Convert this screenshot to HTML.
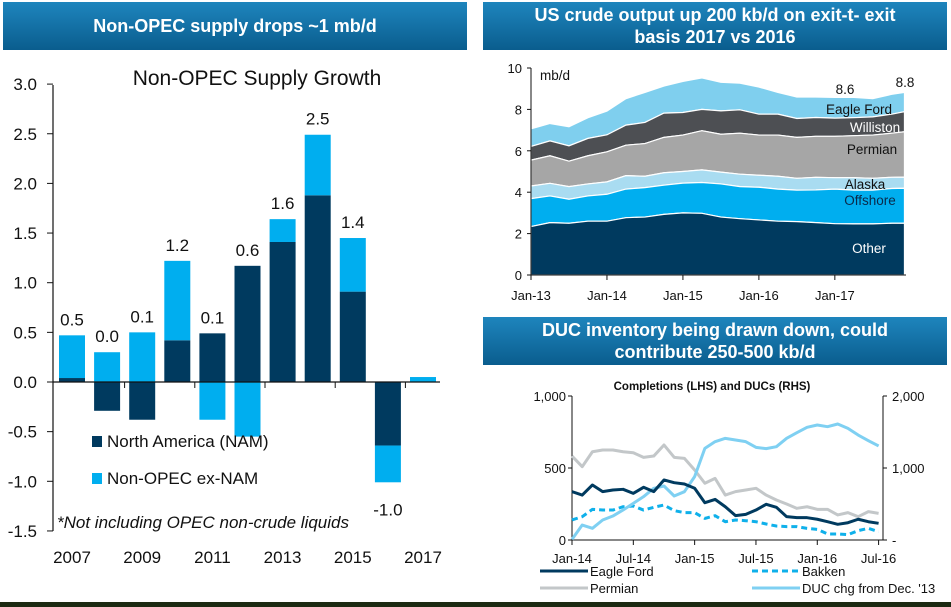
<!DOCTYPE html>
<html><head><meta charset="utf-8">
<style>
html,body{margin:0;padding:0;background:#fff;width:951px;height:607px;overflow:hidden;font-family:"Liberation Sans",sans-serif}
.tb{position:absolute;color:#fff;font-weight:bold;text-align:center;background:linear-gradient(#1e85bd,#0a5d8e);display:flex;align-items:center;justify-content:center;line-height:22px}
svg{position:absolute;left:0;top:0}
</style></head><body>
<div class="tb" style="left:3px;top:2px;width:464px;height:48px;font-size:18px">Non-OPEC supply drops ~1 mb/d</div>
<div class="tb" style="left:483px;top:2px;width:464px;height:48px;font-size:18px">US crude output up 200 kb/d on exit-t- exit<br>basis 2017 vs 2016</div>
<div class="tb" style="left:483px;top:317px;width:464px;height:48px;font-size:18px">DUC inventory being drawn down, could<br>contribute 250-500 kb/d</div>
<div style="position:absolute;left:0;top:602px;width:951px;height:5px;background:#1c2a12"></div>
<svg id="s" width="951" height="602" font-family="Liberation Sans, sans-serif"></svg>
<script>
// ---- Chart 1: Non-OPEC supply growth ----
const years=['2007','2008','2009','2010','2011','2012','2013','2014','2015','2016','2017'];
const namVals=[0.04,-0.29,-0.38,0.42,0.49,1.17,1.41,1.88,0.91,-0.64,0];
const exNamVals=[0.43,0.30,0.50,0.80,-0.38,-0.55,0.23,0.61,0.54,-0.37,0.05];
const totalLabels=['0.5','0.0','0.1','1.2','0.1','0.6','1.6','2.5','1.4','-1.0',''];
const c1Ticks=[3.0,2.5,2.0,1.5,1.0,0.5,0.0,-0.5,-1.0,-1.5];

// ---- Chart 2: US crude output stacked area (quarterly, Dec-17 final) ----
const c2Months=[0,3,6,9,12,15,18,21,24,27,30,33,36,39,42,45,48,51,54,57,59];
const otherTop=[2.34,2.53,2.50,2.60,2.60,2.77,2.80,2.93,3.00,2.98,2.80,2.72,2.66,2.60,2.58,2.53,2.48,2.47,2.47,2.50,2.50];
const offshoreTop=[3.69,3.82,3.66,3.82,3.90,4.15,4.22,4.34,4.44,4.47,4.40,4.27,4.24,4.15,4.10,4.11,4.15,4.10,4.10,4.18,4.19];
const alaskaTop=[4.30,4.43,4.27,4.40,4.50,4.80,4.77,4.94,5.00,5.08,4.97,4.87,4.82,4.77,4.67,4.72,4.70,4.70,4.67,4.72,4.73];
const permianTop=[5.55,5.76,5.50,5.76,5.95,6.27,6.35,6.65,6.76,6.97,6.80,6.85,6.76,6.76,6.65,6.70,6.70,6.73,6.76,6.85,6.92];
const willistonTop=[6.21,6.48,6.24,6.60,6.77,7.24,7.37,7.82,7.85,8.00,7.93,7.98,7.77,7.77,7.56,7.61,7.58,7.60,7.64,7.77,7.89];
const eagleFordTop=[7.06,7.32,7.16,7.60,7.92,8.52,8.82,9.13,9.35,9.52,9.31,9.27,9.08,8.82,8.60,8.60,8.58,8.58,8.52,8.73,8.82];
const c2Ticks=[0,2,4,6,8,10];
const c2XLabels=['Jan-13','Jan-14','Jan-15','Jan-16','Jan-17'];

// ---- Chart 3: Completions and DUCs (monthly Jan-14..Jul-16) ----
const eagleFord=[336,312,382,336,347,352,324,366,336,417,398,389,359,259,282,231,169,178,208,248,227,162,155,155,144,127,109,120,144,127,116];
const permian=[583,509,613,625,625,613,606,574,583,660,574,567,486,394,428,312,336,347,359,312,278,250,220,231,213,213,174,190,162,197,185];
const bakken=[139,162,213,208,208,231,236,208,227,243,204,190,190,150,169,127,139,134,127,111,97,93,93,81,74,42,42,37,65,81,58];
const ducChg=[9,208,162,278,333,417,509,602,718,750,611,671,880,1273,1366,1412,1389,1366,1287,1269,1296,1412,1491,1565,1597,1574,1611,1551,1458,1380,1306];
const c3XLabels=['Jan-14','Jul-14','Jan-15','Jul-15','Jan-16','Jul-16'];
const c3LTicks=['0','500','1,000'];
const c3RTicks=['-','1,000','2,000'];

const svg=document.getElementById('s');
const NS='http://www.w3.org/2000/svg';
function mk(tag,attrs,parent){const e=document.createElementNS(NS,tag);for(const k in attrs)e.setAttribute(k,attrs[k]);(parent||svg).appendChild(e);return e;}
function txt(s,attrs,parent){const e=mk('text',attrs,parent);e.textContent=s;return e;}

// ===== Chart 1 =====
const y1=v=>382-v*99.3;
const x1=i=>72+i*35.1;
const g1=mk('g',{});


let t=txt('Non-OPEC Supply Growth',{x:257,y:85,'font-size':21,'text-anchor':'middle',fill:'#111'},g1);


c1Ticks.forEach(v=>{
  let l=txt(v.toFixed(1),{x:37,y:y1(v)+6,'font-size':17,'text-anchor':'end',fill:'#111'},g1);
  
  
  mk('line',{x1:47,x2:53,y1:y1(v),y2:y1(v),stroke:'#111','stroke-width':1},g1);
});
years.forEach((yr,i)=>{
  const cx=x1(i);
  let pos=0,neg=0;
  [[namVals[i],'#003a5f','nam'],[exNamVals[i],'#00aeef','ex-nam']].forEach(([v,c,n])=>{
    let top,bot;
    if(v>=0){bot=pos;top=pos+v;pos=top;}else{top=neg;bot=neg+v;neg=bot;}
    const r=mk('rect',{x:cx-13,y:y1(top),width:26,height:Math.max(0,y1(bot)-y1(top)),fill:c},g1);
    
    
  });
  if(totalLabels[i]){
    const ly=namVals[i]+exNamVals[i]<-0.5? y1(neg)+33 : y1(pos)-10;
    const l=txt(totalLabels[i],{x:cx,y:ly,'font-size':17,'text-anchor':'middle',fill:'#111'},g1);
    
    
  }
  if(i%2==0){
    const l=txt(yr,{x:cx,y:563,'font-size':17,'text-anchor':'middle',fill:'#111'},g1);
    
    
  } else mk('line',{x1:cx+17.5,x2:cx+17.5,y1:382,y2:388,stroke:'#111'},g1);
});
mk('line',{x1:53,x2:53,y1:85,y2:531,stroke:'#111','stroke-width':1.2},g1);
mk('line',{x1:53,x2:440,y1:382,y2:382,stroke:'#111','stroke-width':1.2},g1);
let lg=mk('rect',{x:92,y:436,width:10,height:11,fill:'#003a5f'},g1);

t=txt('North America (NAM)',{x:107,y:447,'font-size':17,fill:'#111'},g1);

lg=mk('rect',{x:92,y:473,width:10,height:11,fill:'#00aeef'},g1);

t=txt('Non-OPEC ex-NAM',{x:107,y:484,'font-size':17,fill:'#111'},g1);

t=txt('*Not including OPEC non-crude liquids',{x:57,y:528,'font-size':17,'font-style':'italic',fill:'#111'},g1);


// ===== Chart 2 =====
const x2=m=>531+m*6.33;
const y2=v=>275-v*20.7;
const g2=mk('g',{});


const layers=[[eagleFordTop,willistonTop,'#7fcfee','eagle-ford'],[willistonTop,permianTop,'#4d4f53','williston'],[permianTop,alaskaTop,'#a6a6a6','permian'],[alaskaTop,offshoreTop,'#a9dcf1','alaska'],[offshoreTop,otherTop,'#00aeef','offshore'],[otherTop,null,'#003a5f','other']];
layers.forEach(([top,bot,c,n])=>{
  let d='M'+c2Months.map((m,i)=>x2(m)+','+y2(top[i])).join('L');
  if(bot){for(let i=c2Months.length-1;i>=0;i--)d+='L'+x2(c2Months[i])+','+y2(bot[i]);}
  else d+='L'+x2(c2Months[c2Months.length-1])+','+y2(0)+'L'+x2(0)+','+y2(0);
  d+='Z';
  const p=mk('path',{d:d,fill:c,stroke:'#fff','stroke-width':1.2},g2);
  
  
});
mk('line',{x1:531,x2:531,y1:y2(10),y2:y2(0),stroke:'#111'},g2);
mk('line',{x1:531,x2:906,y1:y2(0),y2:y2(0),stroke:'#111'},g2);
c2Ticks.forEach(v=>{
  mk('line',{x1:527,x2:531,y1:y2(v),y2:y2(v),stroke:'#111'},g2);
  const l=txt(String(v),{x:522,y:y2(v)+5,'font-size':13,'text-anchor':'end',fill:'#111'},g2);
  
});
c2XLabels.forEach((s,i)=>{
  const x=x2(i*12);
  mk('line',{x1:x,x2:x,y1:275,y2:280,stroke:'#111'},g2);
  const l=txt(s,{x:x,y:300,'font-size':13,'text-anchor':'middle',fill:'#111'},g2);
  
});
[['mb/d',540,80,'#111','start','unit-label'],['8.6',845,94,'#111','middle','value-label-2016'],['8.8',905,87,'#111','middle','value-label-2017'],
 ['Eagle Ford',859,114,'#111','middle','label-eagle-ford'],['Williston',875,132,'#fff','middle','label-williston'],['Permian',872,154,'#111','middle','label-permian'],
 ['Alaska',865,189,'#111','middle','label-alaska'],['Offshore',870,205,'#0a2a4a','middle','label-offshore'],['Other',869,253,'#fff','middle','label-other']].forEach(a=>{
  const l=txt(a[0],{x:a[1],y:a[2],'font-size':13.5,'text-anchor':a[4],fill:a[3]},g2);
  
});

// ===== Chart 3 =====
const x3=i=>572+i*10.22;
const yL=v=>540-v*0.144;
const yR=v=>540-v*0.072;
const g3=mk('g',{});


t=txt('Completions (LHS) and DUCs (RHS)',{x:712,y:390,'font-size':11.5,'font-weight':'bold','text-anchor':'middle',fill:'#111'},g3);

mk('line',{x1:572,x2:572,y1:396,y2:540,stroke:'#111'},g3);
mk('line',{x1:572,x2:883,y1:540,y2:540,stroke:'#111'},g3);
mk('line',{x1:883,x2:883,y1:396,y2:540,stroke:'#111'},g3);
c3LTicks.forEach((s,i)=>{
  const y=yL(i*500);
  mk('line',{x1:568,x2:572,y1:y,y2:y,stroke:'#111'},g3);
  const l=txt(s,{x:566,y:y+5,'font-size':13,'text-anchor':'end',fill:'#111'},g3);
  
});
c3RTicks.forEach((s,i)=>{
  const y=yR(i*1000);
  mk('line',{x1:883,x2:887,y1:y,y2:y,stroke:'#111'},g3);
  const l=txt(s,{x:892,y:y+5,'font-size':13,fill:'#111'},g3);
  
});
c3XLabels.forEach((s,i)=>{
  const x=x3(i*6);
  mk('line',{x1:x,x2:x,y1:540,y2:545,stroke:'#111'},g3);
  const l=txt(s,{x:x,y:563,'font-size':13,'text-anchor':'middle',fill:'#111'},g3);
  
});
const lines=[[permian,yL,'#c3c7c9','','line-permian'],[bakken,yL,'#0fb0ea','6,4','line-bakken'],[ducChg,yR,'#7fd0f2','','line-duc-change'],[eagleFord,yL,'#003a5f','','line-eagle-ford']];
lines.forEach(([arr,ys,c,da,n])=>{
  const p=mk('polyline',{points:arr.map((v,i)=>x3(i)+','+ys(v)).join(' '),fill:'none',stroke:c,'stroke-width':3,'stroke-dasharray':da,'stroke-linejoin':'round'},g3);
  
  
});
[[540,575,'#003a5f','','Eagle Ford','legend-eagle-ford'],[752,575,'#0fb0ea','6,4','Bakken','legend-bakken'],[540,592,'#c3c7c9','','Permian','legend-permian'],[752,592,'#7fd0f2','','DUC chg from Dec. \'13','legend-duc']].forEach(a=>{
  mk('line',{x1:a[0],x2:a[0]+48,y1:a[1]-4,y2:a[1]-4,stroke:a[2],'stroke-width':3,'stroke-dasharray':a[3]},g3);
  const l=txt(a[4],{x:a[0]+50,y:a[1]+1,'font-size':13,fill:'#111'},g3);
  
});
</script>
</body></html>
